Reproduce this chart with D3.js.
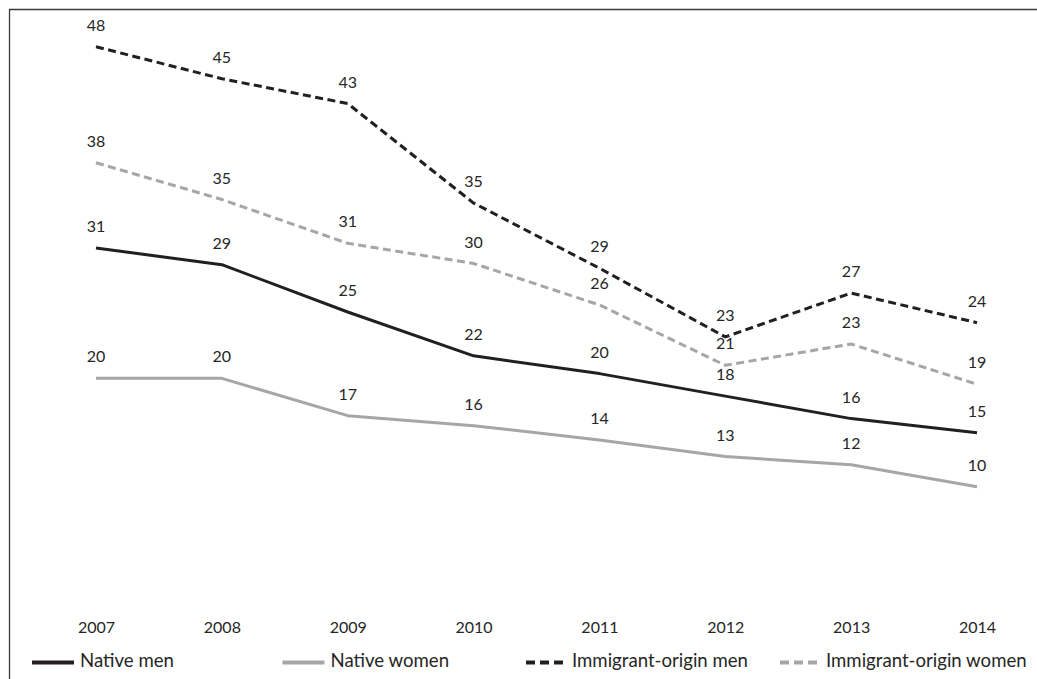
<!DOCTYPE html>
<html>
<head>
<meta charset="utf-8">
<script src="https://cdn.jsdelivr.net/npm/d3@7"></script>
<style>
  html, body { margin: 0; padding: 0; background: #fff; }
  svg { display: block; }
  text { font-family: Lato, "Open Sans", sans-serif; fill: #262626; }
</style>
</head>
<body>
<svg id="chart" width="1037" height="679"></svg>
<script>
// ---- data ----
const years = ["2007", "2008", "2009", "2010", "2011", "2012", "2013", "2014"];
const seriesNames = ["Native men", "Native women", "Immigrant-origin men", "Immigrant-origin women"];
const nativeMen = [31.0, 29.6, 25.6, 21.9, 20.4, 18.5, 16.6, 15.4];
const nativeWomen = [20.0, 20.0, 16.85, 16.0, 14.8, 13.4, 12.7, 10.85];
const immigrantMen = [48.0, 45.3, 43.2, 34.8, 29.3, 23.5, 27.2, 24.7];
const immigrantWomen = [38.2, 35.1, 31.4, 29.7, 26.2, 21.1, 22.9, 19.5];
const nativeMenLabels = ["31", "29", "25", "22", "20", "18", "16", "15"];
const nativeWomenLabels = ["20", "20", "17", "16", "14", "13", "12", "10"];
const immigrantMenLabels = ["48", "45", "43", "35", "29", "23", "27", "24"];
const immigrantWomenLabels = ["38", "35", "31", "30", "26", "21", "23", "19"];

// ---- styling / layout ----
const BLACK = "#231f20";
const GRAY = "#a6a6a6";
const series = [
  { name: seriesNames[0], values: nativeMen, labels: nativeMenLabels, color: BLACK, dash: null },
  { name: seriesNames[1], values: nativeWomen, labels: nativeWomenLabels, color: GRAY, dash: null },
  { name: seriesNames[2], values: immigrantMen, labels: immigrantMenLabels, color: BLACK, dash: "8,4.5" },
  { name: seriesNames[3], values: immigrantWomen, labels: immigrantWomenLabels, color: GRAY, dash: "8,4.5" }
];

const svg = d3.select("#chart");

// frame (top and left edges)
svg.append("path")
  .attr("d", "M9.5,679 L9.5,9.5 L1037,9.5")
  .attr("fill", "none")
  .attr("stroke", "#3a3a3a")
  .attr("stroke-width", 1.3);

const x = d3.scalePoint().domain(years).range([96, 977]);
const y = d3.scaleLinear().domain([0, 50]).range([615.2, 23.05]);

const line = d3.line()
  .x((d, i) => x(years[i]))
  .y(d => y(d));

// lines
series.forEach(s => {
  svg.append("path")
    .datum(s.values)
    .attr("d", line)
    .attr("fill", "none")
    .attr("stroke", s.color)
    .attr("stroke-width", 3)
    .attr("stroke-linejoin", "round")
    .attr("stroke-dasharray", s.dash);
});

// data labels
series.forEach(s => {
  svg.append("g").selectAll("text")
    .data(s.values)
    .join("text")
    .attr("x", (d, i) => x(years[i]))
    .attr("y", d => y(d) - 21.5)
    .attr("dy", "0.35em")
    .attr("text-anchor", "middle")
    .attr("font-size", 16)
    .text((d, i) => s.labels[i]);
});

// x axis labels
const xAxis = d3.axisBottom(x).tickSize(0).tickPadding(0);
const gx = svg.append("g").attr("transform", "translate(0,622)").call(xAxis);
gx.select(".domain").remove();
gx.selectAll("text")
  .attr("font-size", 16)
  .attr("font-family", "Lato, 'Open Sans', sans-serif")
  .attr("fill", "#262626");

// legend
const legendX = [32, 282.5, 526, 780];
const legendY = 662.5;
const lg = svg.append("g");
series.forEach((s, i) => {
  const g = lg.append("g").attr("transform", `translate(${legendX[i]},${legendY})`);
  g.append("line")
    .attr("x1", 0).attr("x2", s.dash ? 38 : 42)
    .attr("y1", 0).attr("y2", 0)
    .attr("stroke", s.color)
    .attr("stroke-width", 4)
    .attr("stroke-dasharray", s.dash ? "9,5" : null);
  g.append("text")
    .attr("x", s.dash ? 46 : 48)
    .attr("y", -2)
    .attr("dy", "0.35em")
    .attr("font-size", 18.6)
    .text(s.name);
});
</script>
</body>
</html>
